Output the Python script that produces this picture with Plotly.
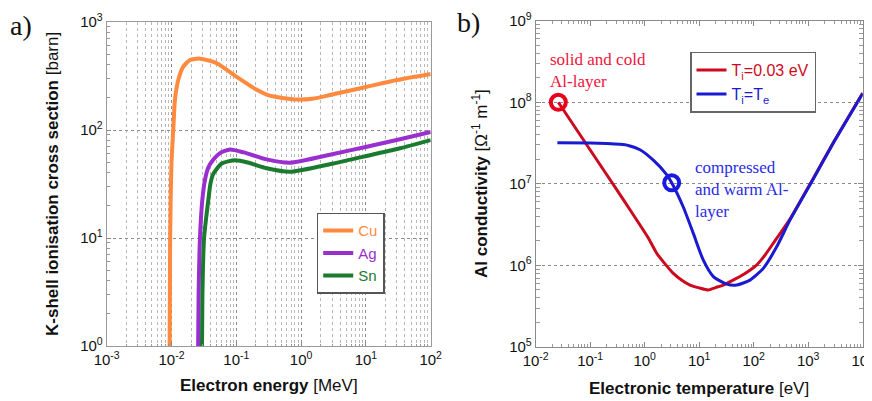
import plotly.graph_objects as go

# ---------------- data: panel a) K-shell ionisation cross sections ----------------
cu_energy = [0.00928, 0.0095, 0.0097, 0.0100, 0.0107, 0.0113, 0.0127, 0.0152, 0.0193, 0.0275,
             0.05, 0.1, 0.2, 0.3, 0.4, 0.8, 1.5, 3, 10, 30, 100]
cu_sigma = [0.3, 8, 22, 50, 107, 190, 290, 386, 445, 458,
            415, 312, 238, 212, 203, 192, 195, 213, 250, 290, 330]

ag_energy = [0.0253, 0.0262, 0.0275, 0.0299, 0.033, 0.037, 0.044, 0.056, 0.08, 0.13, 0.294, 0.67,
             3.14, 10.3, 33.6, 100]
ag_sigma = [0.3, 3, 10, 22.5, 35, 45, 53, 61, 66, 62, 53.5, 49.8, 60, 70, 82, 96]

sn_energy = [0.0291, 0.0300, 0.0318, 0.037, 0.040, 0.044, 0.0595, 0.0955, 0.15, 0.294, 0.67,
             3.14, 10.3, 33.6, 100]
sn_sigma = [0.3, 3, 10, 22.5, 32, 39, 49, 52.4, 50, 44.2, 41, 49, 57.5, 67.7, 80.7]

a_xticks = [1e-3, 1e-2, 1e-1, 1e0, 1e1, 1e2]
a_xticklabels = ["10<sup>-3</sup>", "10<sup>-2</sup>", "10<sup>-1</sup>", "10<sup>0</sup>", "10<sup>1</sup>", "10<sup>2</sup>"]
a_yticks = [1e0, 1e1, 1e2, 1e3]
a_yticklabels = ["10<sup>0</sup>", "10<sup>1</sup>", "10<sup>2</sup>", "10<sup>3</sup>"]

# ---------------- data: panel b) Al conductivity ----------------
red_temp = [0.026, 0.1, 0.4, 0.82, 1.2, 1.66, 2.4, 3.35, 4.8, 6.78, 10, 14.7, 20, 27.7, 40, 56, 80, 113,
            160, 229, 463, 1242, 3000, 10000]
red_sigma = [1e8, 2.6e7, 6.5e6, 3.13e6, 2.1e6, 1.41e6, 1.03e6, 8.0e5, 6.6e5, 5.75e5, 5.3e5, 5.0e5,
             5.35e5, 5.75e5, 6.5e5, 7.3e5, 8.5e5, 1.01e6, 1.33e6, 1.87e6, 3.7e6, 1.17e7, 3.35e7, 1.3e8]

blue_temp = [0.025, 0.1, 0.2, 0.35, 0.5, 0.82, 1.44, 2.53, 3.13, 5.1, 7.8, 11.9, 18.2, 32, 48.8, 85.5,
             150, 264, 463, 1242, 3000, 10000]
blue_sigma = [3.19e7, 3.17e7, 3.12e7, 3.05e7, 2.95e7, 2.62e7, 1.95e7, 1.3e7, 1.03e7, 5.2e6, 2.47e6,
              1.16e6, 7.3e5, 5.9e5, 5.75e5, 6.6e5, 9.2e5, 1.69e6, 3.6e6, 1.15e7, 3.3e7, 1.28e8]

cold_point = ([0.026], [1e8])
warm_point = ([3.13], [1.03e7])

b_xticks = [1e-2, 1e-1, 1e0, 1e1, 1e2, 1e3, 1e4]
b_xticklabels = ["10<sup>-2</sup>", "10<sup>-1</sup>", "10<sup>0</sup>", "10<sup>1</sup>", "10<sup>2</sup>",
                 "10<sup>3</sup>", "10<sup>4</sup>"]
b_yticks = [1e5, 1e6, 1e7, 1e8, 1e9]
b_yticklabels = ["10<sup>5</sup>", "10<sup>6</sup>", "10<sup>7</sup>", "10<sup>8</sup>", "10<sup>9</sup>"]

# ---------------- styling ----------------
# the page body has an 8px margin, so the figure is drawn 8px smaller and all
# reference pixel positions are shifted by that offset
OFF = 8
W, H = 872 - OFF, 401 - OFF
SANS = "Arial, Liberation Sans, sans-serif"
SERIF = "Times New Roman, Liberation Serif, serif"
C_CU, C_AG, C_SN = "#ff8a3d", "#9a2fd0", "#1a7a2e"
C_RED, C_BLUE = "#cc0a1e", "#1a1ad0"


def px_x(x):
    return (x - OFF) / W


def px_y(y):
    return 1 - (y - OFF) / H


def minor_vals(lo, hi):
    return [k * 10.0 ** n for n in range(lo, hi) for k in range(2, 10)]


fig = go.Figure()

fig.add_trace(go.Scatter(x=cu_energy, y=cu_sigma, name="<span style='color:%s'>Cu</span>" % C_CU,
                         mode="lines", line=dict(color=C_CU, width=4, shape="spline", smoothing=0.6),
                         xaxis="x", yaxis="y", legend="legend"))
fig.add_trace(go.Scatter(x=ag_energy, y=ag_sigma, name="<span style='color:%s'>Ag</span>" % C_AG,
                         mode="lines", line=dict(color=C_AG, width=4, shape="spline", smoothing=0.6),
                         xaxis="x", yaxis="y", legend="legend"))
fig.add_trace(go.Scatter(x=sn_energy, y=sn_sigma, name="<span style='color:%s'>Sn</span>" % C_SN,
                         mode="lines", line=dict(color=C_SN, width=4, shape="spline", smoothing=0.6),
                         xaxis="x", yaxis="y", legend="legend"))

fig.add_trace(go.Scatter(x=red_temp, y=red_sigma,
                         name="<span style='color:%s'>T<sub>i</sub>=0.03 eV</span>" % C_RED,
                         mode="lines", line=dict(color=C_RED, width=3, shape="spline", smoothing=0.5),
                         xaxis="x2", yaxis="y2", legend="legend2"))
fig.add_trace(go.Scatter(x=blue_temp, y=blue_sigma,
                         name="<span style='color:%s'>T<sub>i</sub>=T<sub>e</sub></span>" % C_BLUE,
                         mode="lines", line=dict(color=C_BLUE, width=3, shape="spline", smoothing=0.6),
                         xaxis="x2", yaxis="y2", legend="legend2"))
fig.add_trace(go.Scatter(x=cold_point[0], y=cold_point[1], mode="markers", showlegend=False,
                         marker=dict(size=15, color="rgba(0,0,0,0)", line=dict(color="#e8001c", width=4)),
                         xaxis="x2", yaxis="y2"))
fig.add_trace(go.Scatter(x=warm_point[0], y=warm_point[1], mode="markers", showlegend=False,
                         marker=dict(size=15, color="rgba(0,0,0,0)", line=dict(color="#1a1ae0", width=4)),
                         xaxis="x2", yaxis="y2"))

tickfont = dict(family=SANS, size=15, color="#111")

common_a = dict(type="log", showline=True, linecolor="#9a9a9a", linewidth=1, mirror=True,
                ticks="inside", ticklen=4, tickcolor="#888", tickfont=tickfont, automargin=False,
                ticklabeloverflow="allow",
                showgrid=True, gridcolor="#8a8a8a", griddash="dot", gridwidth=1, zeroline=False)

fig.update_layout(
    width=W, height=H, margin=dict(l=0, r=0, t=0, b=0, autoexpand=False),
    paper_bgcolor="white", plot_bgcolor="white",
    xaxis=dict(domain=[px_x(106.7), px_x(430.7)], anchor="y", range=[-3, 2],
               tickmode="array", tickvals=a_xticks, ticktext=a_xticklabels,
               minor=dict(tickmode="array", tickvals=minor_vals(-3, 2), ticks="inside", ticklen=2,
                          tickcolor="#999", showgrid=True, gridcolor="#b8b8b8", griddash="dot", gridwidth=1),
               **common_a),
    yaxis=dict(domain=[px_y(346), px_y(22)], anchor="x", range=[0, 3],
               tickmode="array", tickvals=a_yticks, ticktext=a_yticklabels,
               minor=dict(tickmode="array", tickvals=minor_vals(0, 3), ticks="inside", ticklen=3,
                          tickcolor="#999", showgrid=False),
               **common_a),
    xaxis2=dict(domain=[px_x(535.7), px_x(862.7)], anchor="y2", type="log", range=[-2, 4],
                tickmode="array", tickvals=b_xticks, ticktext=b_xticklabels, tickfont=tickfont,
                showline=True, linecolor="#8a8a8a", linewidth=1, mirror="ticks", automargin=False,
                ticklabeloverflow="allow",
                ticks="inside", ticklen=5, tickcolor="#8a8a8a", showgrid=False, zeroline=False,
                minor=dict(tickmode="array", tickvals=minor_vals(-2, 4), ticks="inside", ticklen=3,
                           tickcolor="#999", showgrid=False)),
    yaxis2=dict(domain=[px_y(347), px_y(20.7)], anchor="x2", type="log", range=[5, 9],
                tickmode="array", tickvals=b_yticks, ticktext=b_yticklabels, tickfont=tickfont,
                showline=True, linecolor="#8a8a8a", linewidth=1, mirror="ticks", automargin=False,
                ticklabeloverflow="allow",
                ticks="inside", ticklen=5, tickcolor="#8a8a8a",
                showgrid=True, gridcolor="#8a8a8a", griddash="dot", gridwidth=1, zeroline=False,
                minor=dict(tickmode="array", tickvals=minor_vals(5, 9), ticks="inside", ticklen=4,
                           tickcolor="#999", showgrid=False)),
    legend=dict(x=px_x(316.7), y=px_y(212.7), xanchor="left", yanchor="top",
                bgcolor="white", bordercolor="#555", borderwidth=1.5,
                font=dict(family=SANS, size=15), itemwidth=30, tracegroupgap=0),
    legend2=dict(x=px_x(690), y=px_y(51.7), xanchor="left", yanchor="top",
                 bgcolor="white", bordercolor="#666", borderwidth=1.5,
                 font=dict(family=SANS, size=16), itemwidth=30, tracegroupgap=0),
)

ann = []
# axis titles
ann.append(dict(text="<b>Electron energy</b> [MeV]", x=px_x(268.7), y=px_y(385), xref="paper", yref="paper",
                showarrow=False, font=dict(family=SANS, size=17, color="#111"), xanchor="center", yanchor="middle"))
ann.append(dict(text="<b>K-shell ionisation cross section</b> [barn]", x=px_x(52), y=px_y(184),
                xref="paper", yref="paper", textangle=-90, showarrow=False,
                font=dict(family=SANS, size=17, color="#111"), xanchor="center", yanchor="middle"))
ann.append(dict(text="<b>Electronic temperature</b> [eV]", x=px_x(699), y=px_y(388), xref="paper", yref="paper",
                showarrow=False, font=dict(family=SANS, size=17, color="#111"), xanchor="center", yanchor="middle"))
ann.append(dict(text="<b>Al conductivity</b> [Ω<sup>-1</sup> m<sup>-1</sup>]", x=px_x(480), y=px_y(184),
                xref="paper", yref="paper", textangle=-90, showarrow=False,
                font=dict(family=SANS, size=17, color="#111"), xanchor="center", yanchor="middle"))
# panel labels
ann.append(dict(text="a)", x=px_x(8), y=px_y(25), xref="paper", yref="paper", showarrow=False,
                font=dict(family=SERIF, size=28, color="#111"), xanchor="left", yanchor="middle"))
ann.append(dict(text="b)", x=px_x(455), y=px_y(23), xref="paper", yref="paper", showarrow=False,
                font=dict(family=SERIF, size=28, color="#111"), xanchor="left", yanchor="middle"))
# curve annotations
ann.append(dict(text="solid and cold<br>Al-layer", x=px_x(548), y=px_y(70.5), xref="paper", yref="paper",
                showarrow=False, align="left", font=dict(family=SERIF, size=17, color="#f0143c"),
                xanchor="left", yanchor="middle"))
ann.append(dict(text="compressed<br>and warm Al-<br>layer", x=px_x(693), y=px_y(189.5), xref="paper", yref="paper",
                showarrow=False, align="left", font=dict(family=SERIF, size=17, color="#2a2ae6"),
                xanchor="left", yanchor="middle"))
fig.update_layout(annotations=ann)

fig.write_html("out.html")
